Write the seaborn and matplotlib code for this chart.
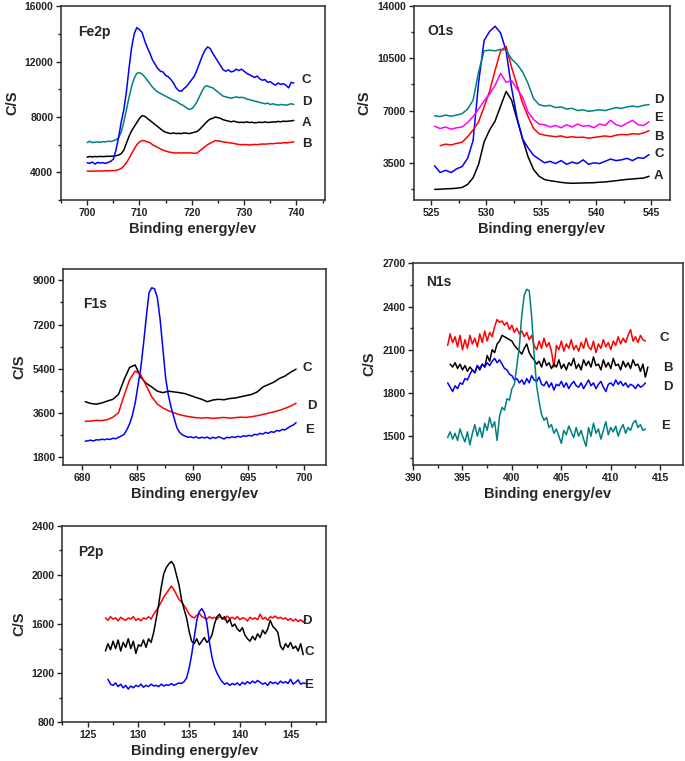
import numpy as np
import pandas as pd
import matplotlib
matplotlib.use("Agg")
import matplotlib.pyplot as plt
import seaborn as sns
from matplotlib.ticker import MultipleLocator, AutoMinorLocator

# ---------------- data ----------------
# Fe2p, 0.5 eV steps from 700.0
fe_start, fe_step = 700.0, 0.5
fe_C = [4700, 4650, 4750, 4600, 4720, 4680, 4700, 4650, 4720, 4800,
        4950, 5600, 6500, 7600, 8500, 9800, 11500, 13000, 14000, 14450,
        14300, 14100, 13500, 13000, 12600, 12100, 11800, 11500, 11300, 11250,
        11000, 10900, 10700, 10450, 10100, 9900, 9850, 10050, 10200, 10450,
        10700, 10950, 11400, 11900, 12400, 12800, 13050, 12950, 12600, 12300,
        12000, 11700, 11400, 11300, 11400, 11250, 11300, 11450, 11350, 11450,
        11300, 11150, 11050, 10950, 10850, 10950, 10750, 10650, 10700, 10500,
        10550, 10400, 10300, 10450, 10350, 10400, 10300, 10100, 10500, 10450]
fe_D = [6150, 6250, 6150, 6180, 6200, 6170, 6220, 6200, 6250, 6230,
        6280, 6350, 6500, 6900, 7600, 8500, 9400, 10200, 10800, 11150,
        11200, 11100, 10900, 10650, 10400, 10150, 9950, 9800, 9700, 9600,
        9500, 9400, 9300, 9200, 9150, 9000, 8900, 8800, 8650, 8550,
        8600, 8800, 9100, 9500, 9900, 10200, 10250, 10150, 10100, 9950,
        9800, 9650, 9500, 9450, 9400, 9350, 9400, 9450, 9400, 9420,
        9380, 9300, 9250, 9200, 9150, 9100, 9050, 9000, 8950, 9000,
        8900, 8950, 8900, 8850, 8900, 8880, 8850, 8900, 8950, 8900]
fe_A = [5100, 5150, 5120, 5150, 5130, 5160, 5140, 5150, 5170, 5160,
        5180, 5200, 5250, 5350, 5600, 6100, 6600, 7000, 7300, 7600,
        7900, 8100, 8050, 7900, 7750, 7600, 7450, 7300, 7150, 7000,
        6900, 6850, 6800, 6850, 6800, 6820, 6800, 6850, 6830, 6800,
        6850, 6900, 6950, 7100, 7300, 7500, 7700, 7850, 7900, 8000,
        7950, 7900, 7800, 7750, 7700, 7650, 7700, 7650, 7600, 7620,
        7600, 7650, 7600, 7620, 7580, 7600, 7620, 7600, 7650, 7600,
        7620, 7650, 7630, 7680, 7650, 7700, 7680, 7700, 7720, 7750]
fe_B = [4100, 4080, 4100, 4090, 4100, 4110, 4100, 4120, 4110, 4130,
        4120, 4150, 4200, 4280, 4450, 4700, 5000, 5350, 5700, 6000,
        6200, 6300, 6280, 6200, 6150, 6000, 5900, 5800, 5700, 5600,
        5550, 5480, 5450, 5420, 5400, 5420, 5400, 5410, 5400, 5420,
        5400, 5380, 5400, 5550, 5700, 5850, 6000, 6100, 6200, 6300,
        6280, 6250, 6200, 6180, 6150, 6120, 6100, 6050, 6020, 6000,
        6010, 6000, 5980, 6000, 6020, 6000, 6030, 6050, 6040, 6060,
        6080, 6070, 6100, 6120, 6100, 6150, 6130, 6150, 6180, 6200]

# O1s, 0.5 eV steps
o_start, o_step = 525.3, 0.5
o_A = [1720, 1730, 1760, 1770, 1800, 1850, 2050, 2500, 3400, 4900,
       5700, 6300, 7300, 8280, 7700, 6400, 5100, 3900, 3050, 2600,
       2380, 2300, 2250, 2190, 2150, 2130, 2140, 2150, 2160, 2170,
       2200, 2220, 2260, 2300, 2350, 2390, 2420, 2450, 2480, 2600]
o_C = [3300, 2850, 3000, 2850, 3100, 3250, 3800, 5000, 8900, 11700,
       12300, 12650, 12200, 11000, 8500, 6500, 5100, 4500, 4000, 3750,
       3500, 3600, 3450, 3650, 3400, 3550, 3450, 3700, 3400, 3500,
       3450, 3600, 3750, 3650, 3700, 3800, 3650, 3850, 3800, 4050]
o_D = [6650, 6600, 6700, 6620, 6700, 6800, 7100, 7700, 9600, 11000,
       11050, 11000, 11100, 11050, 10450, 10100, 9600, 8800, 7800, 7400,
       7300, 7350, 7200, 7250, 7100, 7150, 7000, 7050, 6950, 7000,
       7050, 7000, 7100, 7200, 7150, 7250, 7300, 7250, 7350, 7400]
o_E = [5950, 5800, 5900, 5750, 5850, 5900, 6200, 6600, 7100, 7650,
       8100, 8700, 9500, 8900, 9000, 8450, 7900, 6900, 6400, 6100,
       6050, 5900, 6000, 5850, 6050, 5900, 6100, 5950, 6000, 5850,
       6100, 6000, 6350, 6050, 5950, 6150, 6350, 6050, 6000, 6250]
o_B_start = 525.8
o_B = [4650, 4750, 4700, 4800, 4880, 5250, 5700, 6250, 7250, 8300,
       9700, 11000, 11300, 9900, 8700, 7500, 6600, 5800, 5450, 5350,
       5300, 5250, 5300, 5200, 5250, 5200, 5220, 5150, 5200, 5250,
       5300, 5250, 5350, 5400, 5380, 5450, 5420, 5500, 5650]

# F1s
f_start, f_step = 680.3, 0.5
f_C = [4050, 3980, 3950, 4000, 4080, 4150, 4350, 4950, 5450, 5550,
       5050, 4800, 4650, 4480, 4420, 4480, 4450, 4420, 4380, 4300,
       4220, 4150, 4050, 4120, 4150, 4130, 4180, 4200, 4250, 4300,
       4350, 4450, 4650, 4750, 4850, 5000, 5100, 5250, 5380]
f_D = [3250, 3260, 3290, 3280, 3320, 3420, 3600, 4300, 4950, 5300,
       5150, 4700, 4250, 3950, 3800, 3680, 3600, 3520, 3470, 3430,
       3400, 3380, 3400, 3370, 3390, 3410, 3380, 3400, 3420, 3410,
       3440, 3480, 3530, 3580, 3640, 3700, 3780, 3870, 3990]
f_E_step = 0.25
f_E = [2440, 2460, 2480, 2450, 2500, 2490, 2520, 2500, 2530, 2510,
       2560, 2540, 2600, 2650, 2720, 2900, 3150, 3500, 4000, 4700,
       5400, 6400, 7500, 8500, 8700, 8650, 8300, 7400, 6200, 5000,
       4300, 3800, 3400, 3000, 2800, 2700, 2650, 2600, 2620, 2580,
       2620, 2560, 2600, 2570, 2610, 2540, 2600, 2560, 2620, 2580,
       2530, 2600, 2580, 2620, 2590, 2640, 2610, 2660, 2640, 2680,
       2650, 2720, 2700, 2760, 2730, 2800, 2760, 2830, 2800, 2880,
       2850, 2920, 2900, 2980, 3050, 3100, 3200]

# N1s, 0.25 eV steps
n_start, n_step = 393.5, 0.25
n_C = [2130, 2210, 2150, 2190, 2120, 2200, 2100, 2170, 2110, 2200,
       2140, 2180, 2120, 2210, 2150, 2230, 2160, 2220, 2190, 2260,
       2310, 2290, 2300, 2270, 2290, 2240, 2270, 2220, 2250, 2210,
       2230, 2190, 2220, 2170, 2200, 2130, 2100, 2160, 2110, 2180,
       2120, 2150, 2090, 1980, 2130, 2100, 2160, 2090, 2140, 2110,
       2170, 2100, 2130, 2090, 2150, 2110, 2180, 2120, 2100, 2160,
       2080, 2140, 2110, 2170, 2120, 2150, 2100, 2160, 2130, 2190,
       2140, 2180, 2150, 2200, 2240, 2160, 2190, 2150, 2200, 2170,
       2160]
n_B_start = 393.75
n_B = [2000, 1980, 2010, 1970, 2000, 1960, 1990, 1950, 1980, 1960,
       1940, 1990, 1960, 2000, 1980, 2060, 2020, 2100, 2080, 2140,
       2160, 2200, 2190, 2180, 2170, 2160, 2130, 2110, 2090, 2070,
       2110, 2140, 2080, 2050, 2030, 2000, 2020, 1980, 2040, 1990,
       2010, 1970, 2000, 1980, 2030, 1970, 2000, 1960, 2010, 1990,
       2040, 1970, 2000, 1960, 2030, 1990, 2020, 1980, 2050, 1990,
       2000, 1960, 2030, 1980, 2010, 1970, 2040, 1990, 2000, 1960,
       2020, 1980, 2010, 1970, 2030, 1990, 2000, 1950, 2000, 1910,
       1980]
n_D = [1870, 1840, 1810, 1850, 1830, 1870, 1860, 1900, 1890, 1930,
       1960, 1940, 1990, 1970, 2000, 1980, 2010, 1990, 2020, 2040,
       2010, 2030, 2000, 1970, 1960, 1930, 1920, 1890, 1900, 1870,
       1890, 1860, 1900, 1870, 1920, 1890, 1880, 1910, 1860, 1850,
       1880, 1840, 1870, 1820, 1860, 1850, 1880, 1840, 1870, 1830,
       1860, 1880, 1850, 1840, 1870, 1830, 1860, 1890, 1850, 1870,
       1830, 1860, 1880, 1840, 1810, 1860, 1870, 1850, 1890, 1860,
       1880, 1850, 1870, 1840, 1860, 1850, 1830, 1860, 1840, 1850,
       1870]
n_E = [1490, 1530, 1480, 1520, 1470, 1550, 1500, 1460, 1530, 1440,
       1520, 1580, 1500, 1560, 1490, 1590, 1540, 1630, 1560, 1600,
       1470, 1640, 1700, 1680, 1760, 1750, 1830, 1860, 1990, 2120,
       2340, 2480, 2520, 2510, 2330, 2060, 1850, 1740, 1650, 1610,
       1630, 1560, 1580, 1520, 1550, 1500, 1450, 1540, 1510, 1570,
       1530, 1490, 1560, 1500, 1540, 1480, 1430, 1560, 1500, 1590,
       1520, 1550, 1480, 1540, 1600, 1510, 1560, 1530, 1570, 1500,
       1550, 1580, 1520, 1560, 1540, 1590, 1610, 1560, 1580, 1540,
       1550]

# P2p, 0.25 eV steps
p_start, p_step = 126.75, 0.25
p_D = [1650, 1630, 1660, 1640, 1650, 1625, 1655, 1640, 1630, 1650,
       1640, 1660, 1630, 1645, 1625, 1650, 1640, 1660, 1640, 1680,
       1710, 1740, 1780, 1820, 1850, 1880, 1910, 1880, 1840, 1800,
       1780, 1750, 1720, 1680, 1660, 1650, 1670, 1690, 1660, 1650,
       1640, 1660, 1645, 1655, 1640, 1660, 1650, 1635, 1665, 1645,
       1655, 1640, 1660, 1635, 1650, 1645, 1625, 1655, 1640, 1650,
       1635, 1680, 1640, 1655, 1630, 1660, 1650, 1665, 1645, 1655,
       1640, 1650, 1630, 1645, 1625, 1640, 1620, 1635, 1615, 1640]
p_C = [1380, 1440, 1390, 1460, 1400, 1470, 1380, 1450, 1410, 1480,
       1400, 1460, 1360, 1430, 1420, 1470, 1410, 1480, 1450, 1530,
       1640, 1760, 1900, 2010, 2060, 2090, 2110, 2080, 2000, 1920,
       1800, 1720, 1650, 1540, 1460, 1440, 1480, 1430, 1460, 1490,
       1450, 1470, 1510, 1600, 1660, 1680, 1640, 1660, 1610, 1640,
       1580, 1600, 1560, 1540, 1570, 1510, 1480, 1460, 1500, 1470,
       1520, 1490, 1550, 1520, 1560, 1630, 1580, 1560, 1530, 1420,
       1390, 1440, 1410, 1450, 1400, 1420, 1380, 1440, 1350]
p_E_start = 127.0
p_E = [1150, 1110, 1100, 1120, 1090, 1110, 1080, 1100, 1070, 1095,
       1080, 1100, 1090, 1110, 1085, 1100, 1090, 1110, 1095, 1100,
       1090, 1110, 1095, 1105, 1100, 1115, 1100, 1110, 1120, 1115,
       1130, 1160, 1240, 1350, 1490, 1630, 1700, 1725, 1690, 1610,
       1450, 1330, 1250, 1200, 1160, 1130, 1110, 1120, 1100, 1115,
       1105, 1120, 1100, 1125, 1110, 1130, 1115, 1135, 1120, 1140,
       1125, 1110, 1120, 1100, 1130, 1115, 1125, 1110, 1135, 1120,
       1130, 1115, 1150, 1110, 1125, 1145, 1110, 1120, 1115]

colors = {"A": "black", "B": "#ff0000", "C": "#0000ff", "D": "#008080", "E": "#ff00ff"}


def spectrum(key, start, step, values, color):
    energy = start + step * np.arange(len(values))
    return pd.DataFrame({"energy": energy, "cps": values, "key": key, "color": color})


def draw_panel(ax, curves, title, xlim, ylim, xmajor, ymajor, labels, title_pos):
    df = pd.concat(curves, ignore_index=True)
    order = list(dict.fromkeys(df["key"]))
    pal = {k: df.loc[df["key"] == k, "color"].iloc[0] for k in order}
    sns.lineplot(data=df, x="energy", y="cps", hue="key", palette=pal,
                 estimator=None, sort=False, legend=False, lw=1.1, ax=ax)
    ax.set_xlim(*xlim)
    ax.set_ylim(*ylim)
    ax.xaxis.set_major_locator(MultipleLocator(xmajor))
    ax.yaxis.set_major_locator(MultipleLocator(ymajor))
    ax.xaxis.set_minor_locator(AutoMinorLocator(2))
    ax.yaxis.set_minor_locator(AutoMinorLocator(2))
    ax.tick_params(which="both", direction="out", bottom=True, left=True,
                   top=False, right=False, width=1.0, colors="#222222",
                   labelsize=7.5, pad=2)
    ax.tick_params(which="major", length=3.5)
    ax.tick_params(which="minor", length=2.2)
    for lab in ax.get_xticklabels() + ax.get_yticklabels():
        lab.set_fontweight("bold")
    for sp in ax.spines.values():
        sp.set_color("#2b2b2b")
        sp.set_linewidth(1.1)
    ax.set_xlabel("Binding energy/ev", fontsize=10.5, fontweight="bold", labelpad=3)
    ax.set_ylabel("C/S", fontsize=10.5, fontweight="bold", labelpad=4)
    ax.text(title_pos[0], title_pos[1], title, transform=ax.transAxes,
            fontsize=10, fontweight="bold", va="top", ha="left")
    for text, x, y in labels:
        ax.text(x, y, text, fontsize=9.5, fontweight="bold", ha="center",
                va="center", clip_on=False)


sns.set_style("white")
plt.rcParams["font.family"] = ["Liberation Sans", "DejaVu Sans"]
plt.rcParams["font.weight"] = "bold"
plt.rcParams["axes.labelweight"] = "bold"

fig = plt.figure(figsize=(6.85, 7.61), dpi=100)

ax1 = fig.add_axes([0.089, 0.737, 0.385, 0.255])
draw_panel(ax1, [
    spectrum("B", fe_start, fe_step, fe_B, colors["B"]),
    spectrum("A", fe_start, fe_step, fe_A, colors["A"]),
    spectrum("D", fe_start, fe_step, fe_D, colors["D"]),
    spectrum("C", fe_start, fe_step, fe_C, colors["C"]),
], "Fe2p", (695, 745.4), (2000, 16000), 10, 4000,
    [("C", 741.9, 10650), ("D", 741.9, 9090), ("A", 741.9, 7530), ("B", 741.9, 6040)],
    (0.065, 0.905))

ax2 = fig.add_axes([0.604, 0.737, 0.374, 0.255])
draw_panel(ax2, [
    spectrum("A", o_start, o_step, o_A, colors["A"]),
    spectrum("C", o_start, o_step, o_C, colors["C"]),
    spectrum("B", o_B_start, o_step, o_B, colors["B"]),
    spectrum("E", o_start, o_step, o_E, colors["E"]),
    spectrum("D", o_start, o_step, o_D, colors["D"]),
], "O1s", (523.4, 546.7), (1000, 14000), 5, 3500,
    [("D", 545.7, 7680), ("E", 545.7, 6520), ("B", 545.7, 5220),
     ("C", 545.7, 4060), ("A", 545.7, 2650)],
    (0.055, 0.91))

ax3 = fig.add_axes([0.092, 0.389, 0.384, 0.258])
draw_panel(ax3, [
    spectrum("C", f_start, f_step, f_C, colors["A"]),
    spectrum("D", f_start, f_step, f_D, colors["B"]),
    spectrum("E", f_start, f_E_step, f_E, colors["C"]),
], "F1s", (678.3, 702.0), (1470, 9480), 5, 1800,
    [("C", 700.3, 5430), ("D", 700.7, 3890), ("E", 700.5, 2910)],
    (0.076, 0.857))

ax4 = fig.add_axes([0.603, 0.389, 0.394, 0.265])
draw_panel(ax4, [
    spectrum("C", n_start, n_step, n_C, colors["B"]),
    spectrum("B", n_B_start, n_step, n_B, colors["A"]),
    spectrum("D", n_start, n_step, n_D, colors["C"]),
    spectrum("E", n_start, n_step, n_E, colors["D"]),
], "N1s", (390, 417.3), (1300, 2700), 5, 300,
    [("C", 415.4, 2178), ("B", 415.8, 1976), ("D", 415.8, 1841), ("E", 415.5, 1574)],
    (0.048, 0.94))

ax5 = fig.add_axes([0.091, 0.051, 0.385, 0.258])
draw_panel(ax5, [
    spectrum("D", p_start, p_step, p_D, colors["B"]),
    spectrum("C", p_start, p_step, p_C, colors["A"]),
    spectrum("E", p_E_start, p_step, p_E, colors["C"]),
], "P2p", (122.5, 148.5), (800, 2400), 5, 400,
    [("D", 146.6, 1624), ("C", 146.8, 1371), ("E", 146.8, 1105)],
    (0.06, 0.90))

fig.savefig("out.png", dpi=100)
